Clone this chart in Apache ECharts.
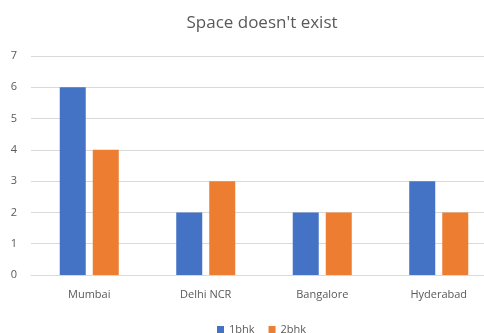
<!DOCTYPE html>
<html><head><meta charset="utf-8">
<script src="https://cdn.jsdelivr.net/npm/echarts@6/dist/echarts.min.js"></script>
<style>html,body{margin:0;padding:0;background:#fff}#c{width:484px;height:333px}</style>
</head><body><div id="c"></div>
<script>
const categories = ['Mumbai', 'Delhi NCR', 'Bangalore', 'Hyderabad'];
const s1bhk = [6, 2, 2, 3];
const s2bhk = [4, 3, 2, 2];
const seriesNames = ['1bhk', '2bhk'];
const chart = echarts.init(document.getElementById('c'));
const font = 'Open Sans, Liberation Sans, sans-serif';
chart.setOption({
  animation: false,
  title: { text: "Space doesn't exist", left: 257, top: 10, textAlign: 'center',
    textStyle: { color: '#595959', fontSize: 17, fontWeight: 'normal', fontFamily: font } },
  legend: { top: 319, left: 212, itemWidth: 7, itemHeight: 7, itemGap: 14,
    icon: 'rect', data: seriesNames,
    textStyle: { color: '#595959', fontSize: 11, fontFamily: font } },
  grid: { left: 31, width: 466, top: 56, height: 219, outerBoundsMode: 'none', containLabel: false },
  xAxis: { type: 'category', data: categories,
    axisLine: { lineStyle: { color: '#d9d9d9' } }, axisTick: { show: false },
    axisLabel: { color: '#595959', fontSize: 11, fontFamily: font, margin: 14 } },
  yAxis: { type: 'value', min: 0, max: 7, interval: 1,
    axisLabel: { color: '#595959', fontSize: 11, fontFamily: font, margin: 14 },
    splitLine: { lineStyle: { color: '#d9d9d9' } } },
  series: [
    { name: seriesNames[0], type: 'bar', data: s1bhk, barWidth: 26, barGap: '27%',
      itemStyle: { color: '#4472C4' } },
    { name: seriesNames[1], type: 'bar', data: s2bhk, barWidth: 26,
      itemStyle: { color: '#ED7D31' } }
  ]
});
</script></body></html>
